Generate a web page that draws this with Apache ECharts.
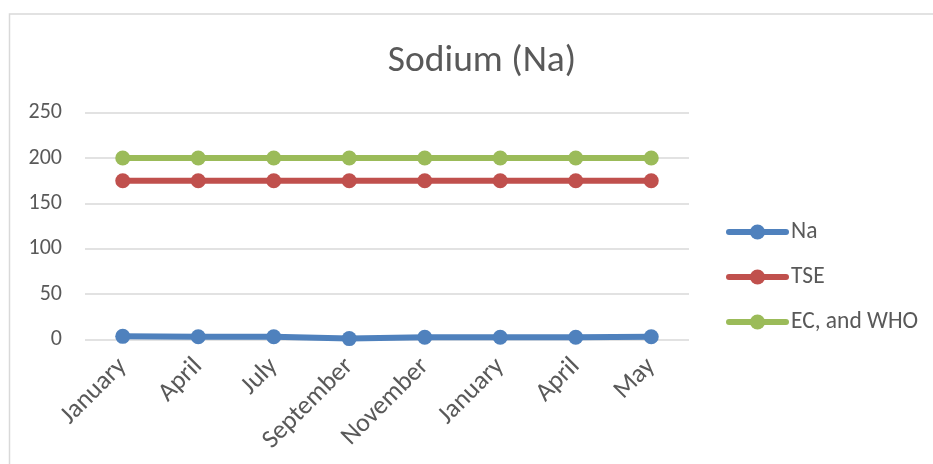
<!DOCTYPE html>
<html><head><meta charset="utf-8">
<script src="https://cdn.jsdelivr.net/npm/echarts@6/dist/echarts.min.js"></script>
<style>html,body{margin:0;padding:0;background:#fff}#c{width:933px;height:464px}</style>
</head><body><div id="c"></div>
<script>
const categories = ['January','April','July','September','November','January','April','May'];
const naValues = [3.5, 3, 3, 1, 2.5, 2.5, 2.5, 3];
const tseValues = [175, 175, 175, 175, 175, 175, 175, 175];
const whoValues = [200, 200, 200, 200, 200, 200, 200, 200];
const yTicks = [0, 50, 100, 150, 200, 250];

const chart = echarts.init(document.getElementById('c'));
const font = 'Carlito, Lato, sans-serif';
function mk(name, data, color){
  return {name, type:'line', data, symbol:'circle', symbolSize:15,
    lineStyle:{width:6, color, cap:'round'}, itemStyle:{color}, z: 3};
}
chart.setOption({
  animation:false,
  graphic:[{type:'rect', shape:{x:9.5,y:14,width:940,height:470}, style:{fill:'none', stroke:'#d9d9d9', lineWidth:1.5}, silent:true}],
  title:{text:'Sodium (Na)', left:477, top:38, textAlign:'center', textStyle:{fontFamily:font, fontSize:37.5, fontWeight:'normal', color:'#595959'}},
  grid:{left:85, right:244, top:112.7, bottom:124.5},
  legend:{orient:'vertical', left:726, top:220, padding:0, itemGap:21, itemWidth:57, itemHeight:19,
    lineStyle:{width:6, cap:'round'},
    textStyle:{fontFamily:font, fontSize:23.5, color:'#595959'},
    data:['Na','TSE','EC, and WHO']},
  xAxis:{type:'category', data:categories, boundaryGap:true,
    axisLine:{show:false}, axisTick:{show:false},
    axisLabel:{rotate:45, interval:0, fontFamily:font, fontSize:26, color:'#595959', margin:23}},
  yAxis:{type:'value', min:yTicks[0], max:yTicks[yTicks.length-1], interval:50,
    axisLine:{show:false}, axisTick:{show:false},
    axisLabel:{fontFamily:font, fontSize:22, color:'#595959', margin:23},
    splitLine:{lineStyle:{color:'#d9d9d9', width:1.5}}},
  series:[mk('Na', naValues, '#4f81bd'), mk('TSE', tseValues, '#c0504d'), mk('EC, and WHO', whoValues, '#9bbb59')]
});
</script></body></html>
